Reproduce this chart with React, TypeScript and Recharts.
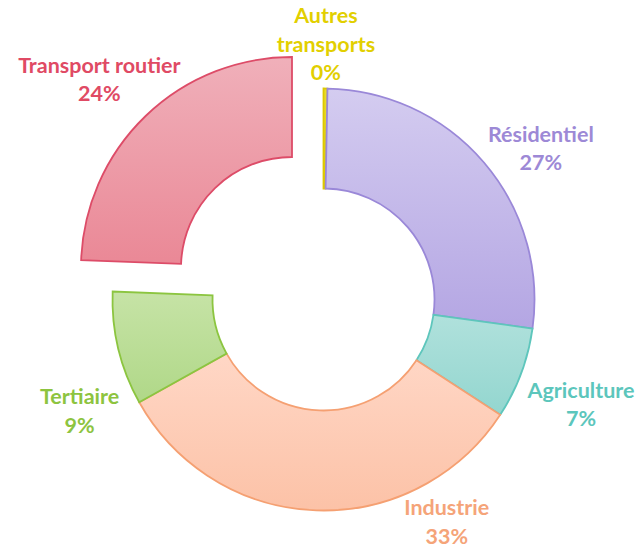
import { PieChart, Pie, Cell } from "recharts";

const categories = [
  "Autres transports",
  "Résidentiel",
  "Agriculture",
  "Industrie",
  "Tertiaire",
  "Transport routier",
];
const shares = [0.3, 26.9, 7.0, 32.7, 8.7, 24.4];
const labelLines = [
  ["Autres", "transports"],
  ["Résidentiel"],
  ["Agriculture"],
  ["Industrie"],
  ["Tertiaire"],
  ["Transport routier"],
];
const exploded = [false, false, false, false, false, true];

const gradTop = ["#ebdc2c", "#d4ccf0", "#b0e1dc", "#ffd7c6", "#c6e3a6", "#f0b0ba"];
const gradBottom = ["#dfcb00", "#b4a6e3", "#93d6cf", "#fcc2a7", "#b0d888", "#ea8896"];
const strokes = ["#dcc800", "#9a88d8", "#5ec6bc", "#f5a072", "#8cc540", "#dd4c68"];
const textColors = ["#e2cf00", "#9d89d6", "#5cc6bc", "#f5a479", "#8dc43f", "#e04a64"];

// label placement: radius from centre and angular nudge (deg, clockwise)
const labelRadius = [256, 265, 278, 254, 268, 270];
const labelNudge = [0, 5.6, 1.6, -31, -11, -1.6];

const data = categories.map((name, i) => ({ name, value: shares[i] }));

const CX = 323.5;
const CY = 299.5;
const OFFSET = 31.5;

const makeLabel = (showExploded: boolean) => (props: any) => {
  const { cx, cy, midAngle, percent, index } = props;
  if (exploded[index] !== showExploded) return null;
  const cw = ((90 - midAngle + labelNudge[index]) * Math.PI) / 180;
  const r = labelRadius[index];
  const x = cx + r * Math.sin(cw);
  const lines = [...labelLines[index], `${Math.round(percent * 100)}%`];
  const lh = 28.5;
  const y0 = cy - r * Math.cos(cw) - ((lines.length - 1) * lh) / 2;
  return (
    <text
      x={x}
      y={y0}
      textAnchor="middle"
      dominantBaseline="central"
      fill={textColors[index]}
      style={{ fontFamily: "Lato, 'Open Sans', sans-serif", fontWeight: 700, fontSize: 21.5 }}
    >
      {lines.map((l, k) => (
        <tspan key={k} x={x} dy={k === 0 ? 0 : lh}>
          {l}
        </tspan>
      ))}
    </text>
  );
};

export default function App() {
  return (
    <div style={{ position: "absolute", left: 0, top: 0, width: 640, height: 549, background: "#fff" }}>
      <PieChart width={640} height={549} margin={{ top: 0, right: 0, bottom: 0, left: 0 }}>
        <defs>
          {categories.map((_, i) => (
            <linearGradient key={i} id={`g${i}`} x1="0" y1="0" x2="0" y2="1">
              <stop offset="0%" stopColor={gradTop[i]} />
              <stop offset="100%" stopColor={gradBottom[i]} />
            </linearGradient>
          ))}
        </defs>
        <Pie
          data={data}
          dataKey="value"
          cx={CX}
          cy={CY}
          innerRadius={111}
          outerRadius={211}
          startAngle={90}
          endAngle={-270}
          label={makeLabel(false)}
          labelLine={false}
          isAnimationActive={false}
        >
          {data.map((_, i) => (
            <Cell
              key={i}
              fill={exploded[i] ? "none" : `url(#g${i})`}
              stroke={exploded[i] ? "none" : strokes[i]}
              strokeWidth={1.8}
            />
          ))}
        </Pie>
        <Pie
          data={data}
          dataKey="value"
          cx={CX - OFFSET}
          cy={CY - OFFSET}
          innerRadius={111}
          outerRadius={211}
          startAngle={90}
          endAngle={-270}
          label={makeLabel(true)}
          labelLine={false}
          isAnimationActive={false}
        >
          {data.map((_, i) => (
            <Cell
              key={i}
              fill={exploded[i] ? `url(#g${i})` : "none"}
              stroke={exploded[i] ? strokes[i] : "none"}
              strokeWidth={1.8}
            />
          ))}
        </Pie>
      </PieChart>
    </div>
  );
}
